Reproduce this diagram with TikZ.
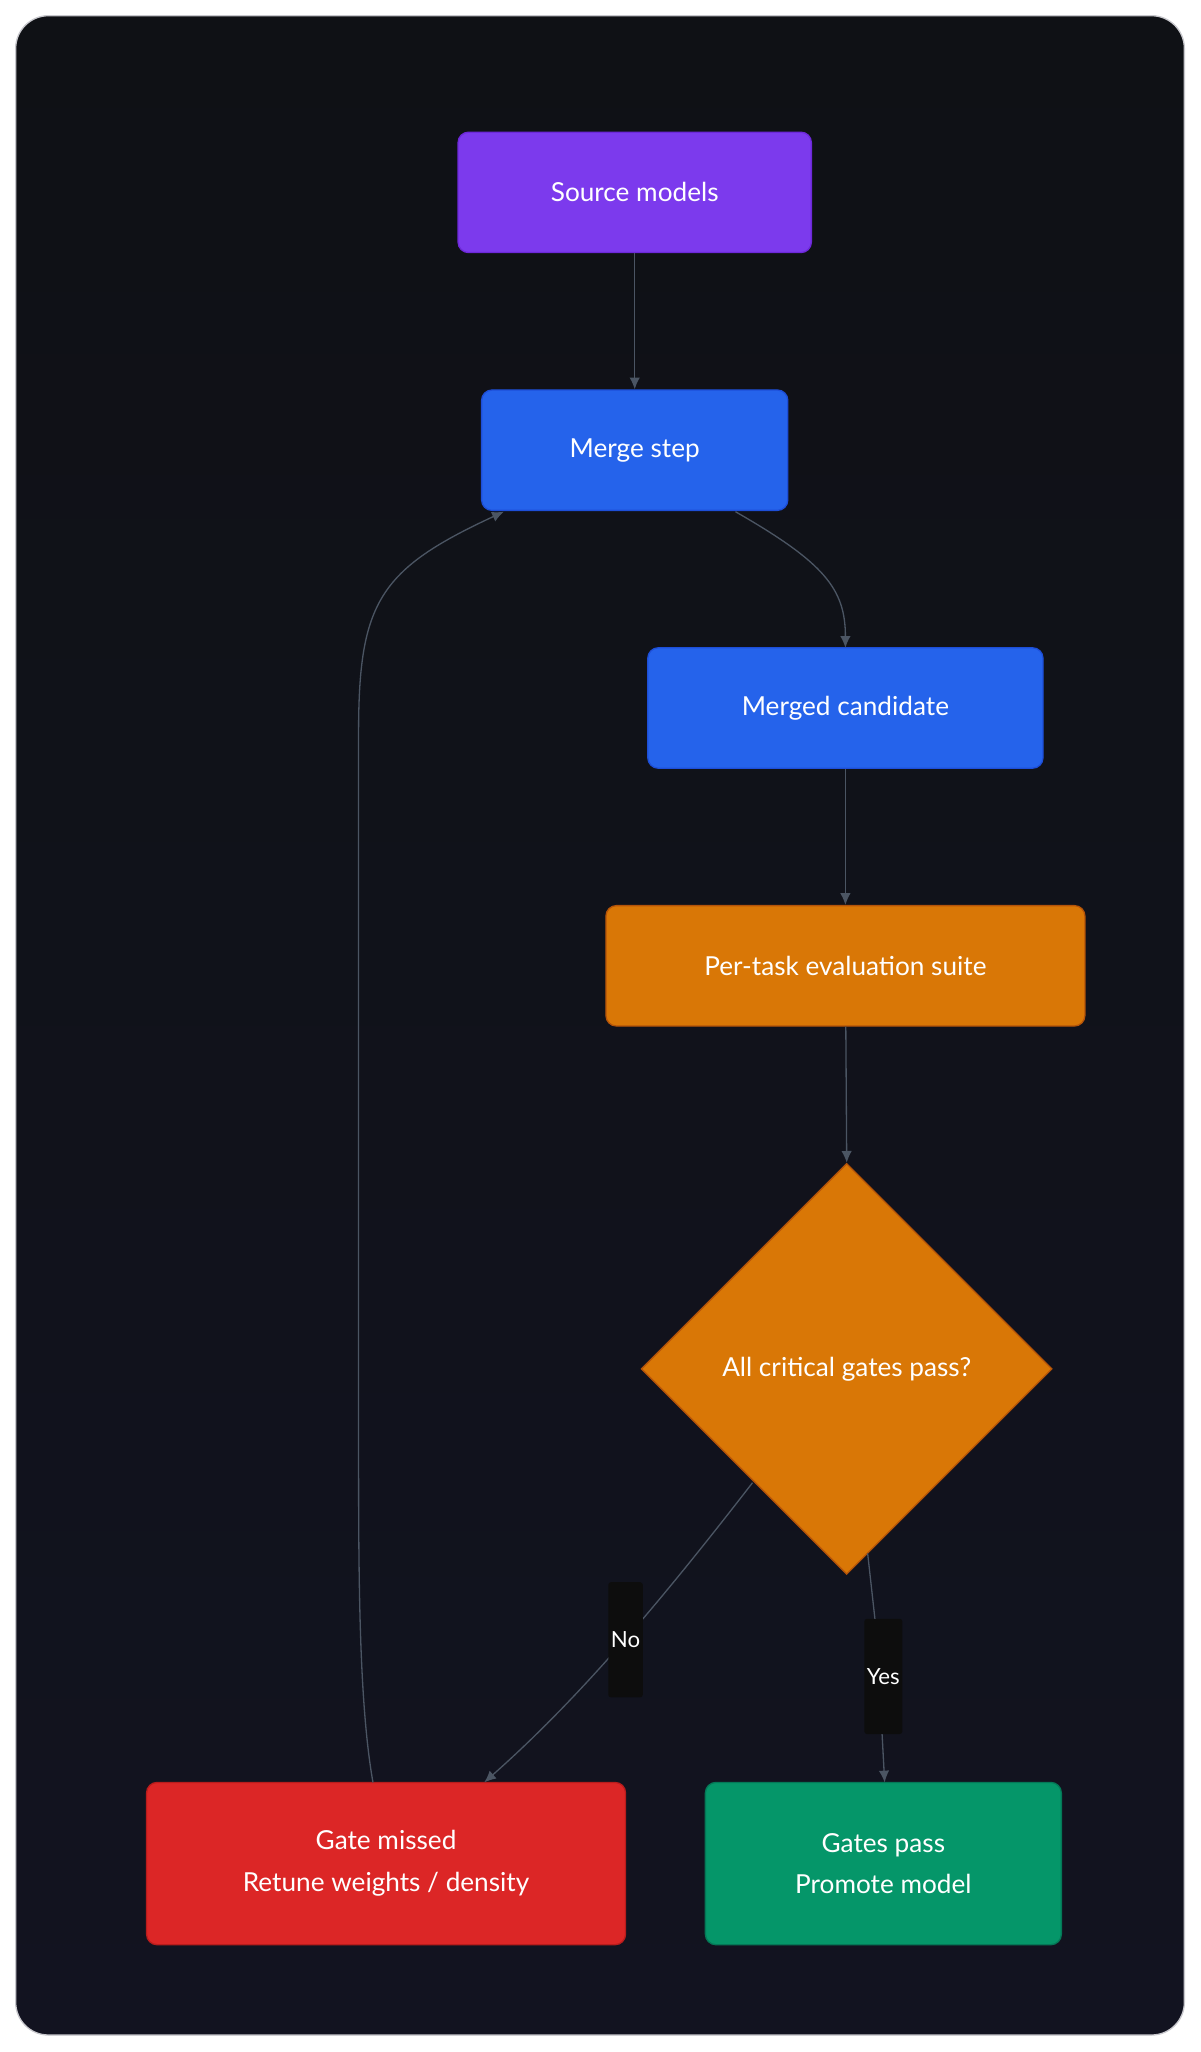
\documentclass[tikz,border=0pt]{standalone}
\usepackage{fontspec}
\setmainfont{Lato}
\usetikzlibrary{shapes.geometric,arrows.meta}
\definecolor{edge}{HTML}{4B5563}
\begin{document}
\begin{tikzpicture}[x=1pt,y=-1pt,
 box/.style={draw,line width=1pt,rounded corners=8pt,text=white,align=center,font=\fontsize{20}{32}\selectfont,inner sep=0pt},
 conn/.style={draw=edge,line width=1pt,-{Latex[length=9pt,width=8pt]}},
 lab/.style={fill=black!90!gray,text=white,font=\fontsize{17}{20}\selectfont,inner sep=2pt,minimum height=88pt,minimum width=18pt,rounded corners=2pt}]
\useasboundingbox (0,0) rectangle (917,1568);
\fill[white] (0,0) rectangle (917,1568);
\shade[top color={rgb,255:red,15;green,17;blue,21}, bottom color={rgb,255:red,18;green,19;blue,32},draw={rgb,255:red,200;green,200;blue,205},line width=1pt,rounded corners=25pt] (12,12) rectangle (905,1555);
\node[box,fill={rgb,255:red,124;green,58;blue,237},draw={rgb,255:red,109;green,40;blue,217},minimum width=270pt,minimum height=92pt] (src) at (485,147) {Source models};
\node[box,fill={rgb,255:red,37;green,99;blue,235},draw={rgb,255:red,29;green,78;blue,216},minimum width=234pt,minimum height=92pt] (merge) at (485,344) {Merge step};
\node[box,fill={rgb,255:red,37;green,99;blue,235},draw={rgb,255:red,29;green,78;blue,216},minimum width=302pt,minimum height=92pt] (cand) at (646,541) {Merged candidate};
\node[box,fill={rgb,255:red,217;green,119;blue,6},draw={rgb,255:red,180;green,83;blue,9},minimum width=366pt,minimum height=92pt] (eval) at (646,738) {Per-task evaluation suite};
\node[draw={rgb,255:red,180;green,83;blue,9},fill={rgb,255:red,217;green,119;blue,6},line width=1pt,diamond,minimum width=314pt,minimum height=314pt,inner sep=0pt,text=white,font=\fontsize{20}{24}\selectfont] (dec) at (647,1046) {};
\node[text=white,font=\fontsize{20}{24}\selectfont] (dect) at (647,1046) {All critical gates pass?};
\node[box,fill={rgb,255:red,220;green,38;blue,38},draw={rgb,255:red,185;green,28;blue,28},minimum width=366pt,minimum height=124pt] (miss) at (295,1424) {Gate missed\\Retune weights / density};
\node[box,fill={rgb,255:red,5;green,150;blue,105},draw={rgb,255:red,4;green,120;blue,87},minimum width=272pt,minimum height=124pt] (pass) at (675,1424) {Gates pass\\Promote model};
\coordinate (m1) at (562,391);
\coordinate (c1) at (646,495);
\coordinate (n1) at (575,1133);
\coordinate (n2) at (370,1362);
\coordinate (y1) at (663,1187);
\coordinate (y2) at (676,1362);
\coordinate (g1) at (285,1362);
\coordinate (g2) at (385,391);
\draw[conn] (src) -- (merge);
\draw[conn] (m1) .. controls (630,430) and (646,450) .. (c1);
\draw[conn] (cand) -- (eval);
\draw[conn] (eval) -- (dec.north);
\draw[conn] (n1) .. controls (500,1230) and (440,1300) .. (n2);
\draw[conn] (y1) -- (670,1250) -- (y2);
\draw[conn] (g1) .. controls (274,1300) and (274,1200) .. (274,1100) -- (274,560) .. controls (274,460) and (290,435) .. (g2);
\node[lab] (no) at (478,1253) {No};
\node[lab] (yes) at (675,1281) {Yes};
\end{tikzpicture}
\end{document}
